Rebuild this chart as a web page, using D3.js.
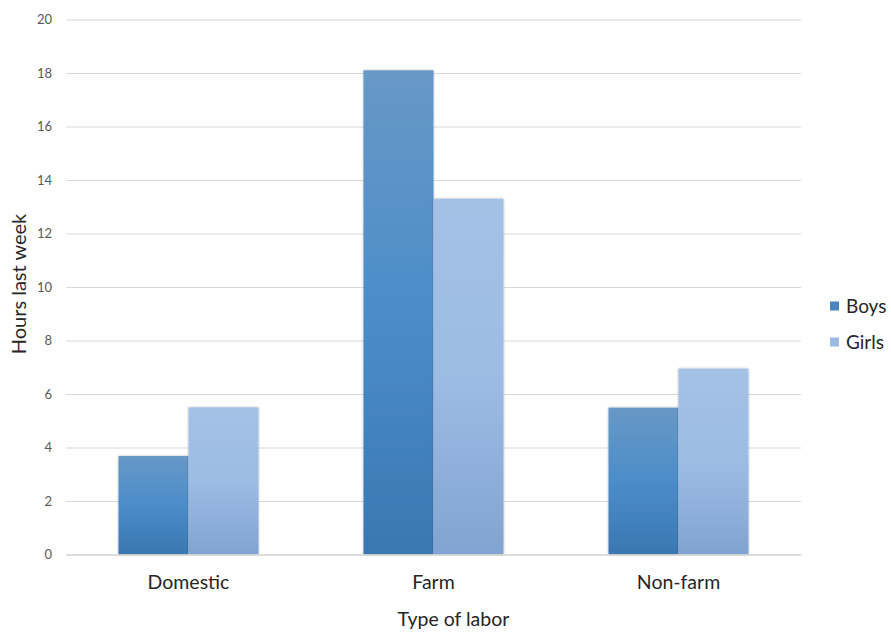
<!DOCTYPE html>
<html><head><meta charset="utf-8">
<script src="https://cdn.jsdelivr.net/npm/d3@7"></script>
<style>body{margin:0;background:#fff;} text{font-family:Lato, "Open Sans", sans-serif;}</style>
</head><body>
<svg id="chart" width="891" height="634"></svg>
<script>
const categories = ["Domestic", "Farm", "Non-farm"];
const seriesNames = ["Boys", "Girls"];
const boys = [3.68, 18.1, 5.49];
const girls = [5.5, 13.3, 6.95];
const yTicks = [0, 2, 4, 6, 8, 10, 12, 14, 16, 18, 20];

const svg = d3.select("#chart");
const m = {left: 66, right: 90, top: 19.5, bottom: 79.5};
const W = 891, H = 634;
const x0 = d3.scaleBand().domain(categories).range([m.left, W - m.right]).paddingInner(0.4286).paddingOuter(0.2143);
const x1 = d3.scaleBand().domain(seriesNames).range([0, x0.bandwidth()]);
const y = d3.scaleLinear().domain([0, 20]).range([H - m.bottom, m.top]);

const defs = svg.append("defs");
function grad(id, stops) {
  const g = defs.append("linearGradient").attr("id", id).attr("x1", 0).attr("y1", 0).attr("x2", 0).attr("y2", 1);
  stops.forEach(([o, c]) => g.append("stop").attr("offset", o).attr("stop-color", c));
}
grad("gBoys", [[0, "#6898c6"], [0.5, "#4b8dc9"], [1, "#3a77b1"]]);
grad("gGirls", [[0, "#a4c1e6"], [0.5, "#9cbce4"], [1, "#80a4d1"]]);
const f = defs.append("filter").attr("id", "sh").attr("x", "-10%").attr("y", "-5%").attr("width", "120%").attr("height", "110%");
f.append("feDropShadow").attr("dx", 0).attr("dy", 0).attr("stdDeviation", 1.2).attr("flood-color", "#000").attr("flood-opacity", 0.3);

// gridlines
const yAxis = d3.axisLeft(y).tickValues(yTicks).tickSize(-(W - m.right - m.left)).tickPadding(14);
const ga = svg.append("g").attr("transform", `translate(${m.left},0)`).call(yAxis);
ga.select(".domain").remove();
ga.selectAll(".tick line").attr("stroke", "#d9d9d9").attr("stroke-width", 1);
ga.selectAll(".tick text").attr("fill", "#595959").attr("font-size", 13).style("font-family", "Lato, sans-serif");

const data = categories.map((c, i) => ({cat: c, vals: [{s: "Boys", v: boys[i]}, {s: "Girls", v: girls[i]}]}));
const groups = svg.append("g").selectAll("g").data(data).join("g")
  .attr("transform", d => `translate(${x0(d.cat)},0)`);
groups.selectAll("rect").data(d => d.vals).join("rect")
  .attr("x", d => x1(d.s)).attr("width", x1.bandwidth())
  .attr("y", d => y(d.v)).attr("height", d => y(0) - y(d.v))
  .attr("fill", d => d.s === "Boys" ? "url(#gBoys)" : "url(#gGirls)")
  .attr("filter", "url(#sh)");

// x axis
const xAxis = d3.axisBottom(x0).tickSize(0).tickPadding(21);
const gx = svg.append("g").attr("transform", `translate(0,${y(0)})`).call(xAxis);
gx.select(".domain").attr("stroke", "#d9d9d9").attr("stroke-width", 1.5);
gx.selectAll(".tick text").attr("fill", "#262626").attr("font-size", 19.5).style("font-family", "Lato, sans-serif");

svg.append("text").attr("x", (m.left + W - m.right) / 2 + 20).attr("y", 626)
  .attr("text-anchor", "middle").attr("font-size", 19.5).attr("fill", "#262626").text("Type of labor");
svg.append("text").attr("transform", `translate(26,${(y(0) + y(20)) / 2 -3}) rotate(-90)`)
  .attr("text-anchor", "middle").attr("font-size", 20).attr("fill", "#262626").text("Hours last week");

// legend
const leg = svg.append("g").selectAll("g").data(seriesNames).join("g")
  .attr("transform", (d, i) => `translate(830,${306 + i * 36})`);
leg.append("rect").attr("x", 0).attr("y", -4.5).attr("width", 9).attr("height", 9)
  .attr("fill", d => d === "Boys" ? "#4a85c0" : "#9cbce4");
leg.append("text").attr("x", 16).attr("y", 0).attr("dy", "0.36em").attr("font-size", 19).attr("fill", "#262626").text(d => d);
</script>
</body></html>
